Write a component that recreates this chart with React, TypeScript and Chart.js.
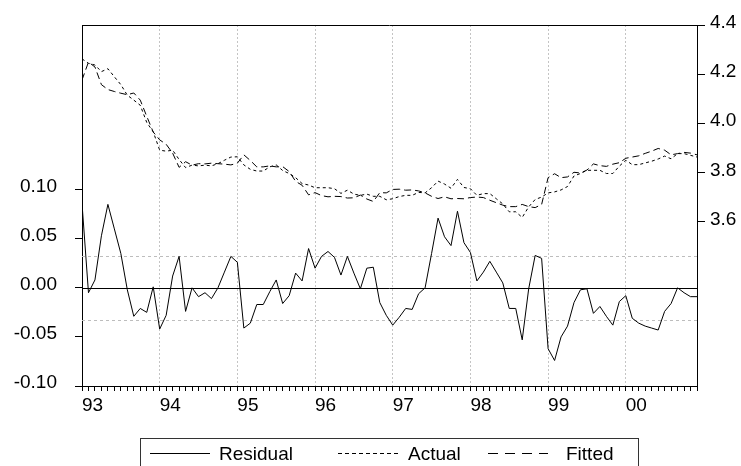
import React, { useEffect, useRef } from 'react';
import { Chart, registerables } from 'chart.js';

Chart.register(...registerables);

// ---- data ----
const yearLabels = ['93', '94', '95', '96', '97', '98', '99', '00'];
const periods: string[] = [];
for (let y = 1993; y <= 2000; y++) {
  for (let m = 1; m <= 12; m++) periods.push(`${y}M${m < 10 ? '0' + m : m}`);
}

const residual = [
  0.086, -0.005, 0.008, 0.053, 0.085, 0.060, 0.035, -0.002, -0.029, -0.021, -0.025, 0.001,
  -0.042, -0.028, 0.012, 0.032, -0.024, 0.000, -0.009, -0.005, -0.011, 0.000, 0.016, 0.032,
  0.026, -0.041, -0.036, -0.017, -0.017, -0.004, 0.008, -0.016, -0.008, 0.015, 0.007, 0.040,
  0.020, 0.032, 0.037, 0.031, 0.013, 0.032, 0.015, -0.001, 0.020, 0.021, -0.015, -0.028,
  -0.038, -0.030, -0.021, -0.022, -0.006, 0.000, 0.035, 0.071, 0.052, 0.043, 0.078, 0.046,
  0.036, 0.007, 0.016, 0.027, 0.016, 0.005, -0.021, -0.021, -0.053, -0.001, 0.033, 0.030,
  -0.062, -0.074, -0.050, -0.039, -0.015, -0.002, -0.001, -0.026, -0.019, -0.029, -0.038, -0.014,
  -0.008, -0.031, -0.036, -0.039, -0.041, -0.043, -0.024, -0.016, 0.000, -0.005, -0.009, -0.009,
];

const actual = [
  4.262, 4.244, 4.237, 4.210, 4.222, 4.189, 4.157, 4.114, 4.094, 4.073, 4.003, 3.965,
  3.890, 3.886, 3.890, 3.852, 3.819, 3.829, 3.826, 3.829, 3.826, 3.835, 3.849, 3.862,
  3.863, 3.830, 3.812, 3.805, 3.805, 3.822, 3.830, 3.807, 3.795, 3.778, 3.754, 3.748,
  3.737, 3.737, 3.737, 3.733, 3.714, 3.727, 3.711, 3.706, 3.711, 3.702, 3.702, 3.688,
  3.692, 3.701, 3.706, 3.706, 3.718, 3.716, 3.737, 3.764, 3.752, 3.735, 3.771, 3.738,
  3.733, 3.706, 3.713, 3.713, 3.692, 3.671, 3.639, 3.639, 3.616, 3.659, 3.689, 3.699,
  3.716, 3.720, 3.728, 3.742, 3.785, 3.795, 3.808, 3.808, 3.808, 3.795, 3.795, 3.825,
  3.849, 3.831, 3.831, 3.838, 3.845, 3.854, 3.866, 3.855, 3.876, 3.876, 3.869, 3.862,
];

const fitted = [
  4.176, 4.249, 4.229, 4.157, 4.137, 4.129, 4.122, 4.116, 4.123, 4.094, 4.028, 3.964,
  3.932, 3.914, 3.878, 3.820, 3.843, 3.829, 3.835, 3.834, 3.837, 3.835, 3.833, 3.830,
  3.837, 3.871, 3.848, 3.822, 3.822, 3.826, 3.822, 3.823, 3.803, 3.763, 3.747, 3.708,
  3.717, 3.705, 3.700, 3.702, 3.701, 3.695, 3.696, 3.707, 3.691, 3.681, 3.717, 3.716,
  3.730, 3.731, 3.727, 3.728, 3.724, 3.716, 3.702, 3.693, 3.700, 3.692, 3.693, 3.692,
  3.697, 3.699, 3.697, 3.686, 3.676, 3.666, 3.660, 3.660, 3.669, 3.660, 3.656, 3.669,
  3.778, 3.794, 3.778, 3.781, 3.800, 3.797, 3.809, 3.834, 3.827, 3.824, 3.833, 3.839,
  3.857, 3.862, 3.867, 3.877, 3.886, 3.897, 3.890, 3.871, 3.876, 3.881, 3.878, 3.871,
];

const residualTicks = [-0.1, -0.05, 0, 0.05, 0.1];
const levelTicks = [3.6, 3.8, 4.0, 4.2, 4.4];
const residualRange = [-0.1, 0.2677];
const levelRange = [2.9292, 4.4];
const seBand = 0.0327;

const FONT = "'Liberation Sans', Arial, Helvetica, sans-serif";

const framePlugin = {
  id: 'eviewsFrame',
  beforeDatasetsDraw(chart: any) {
    const { ctx, chartArea: a, scales } = chart;
    const y = scales.y;
    ctx.save();
    ctx.lineWidth = 1;
    ctx.strokeStyle = '#bdbdbd';
    ctx.setLineDash([3, 3]);
    [seBand, -seBand].forEach((v) => {
      const py = Math.round(y.getPixelForValue(v)) + 0.5;
      ctx.beginPath();
      ctx.moveTo(a.left, py);
      ctx.lineTo(a.right, py);
      ctx.stroke();
    });
    ctx.setLineDash([]);
    ctx.strokeStyle = '#000';
    const zy = Math.round(y.getPixelForValue(0)) + 0.5;
    ctx.beginPath();
    ctx.moveTo(a.left, zy);
    ctx.lineTo(a.right, zy);
    ctx.stroke();
    const ty = Math.round(a.top) + 0.5;
    ctx.beginPath();
    ctx.moveTo(a.left, ty);
    ctx.lineTo(a.right, ty);
    ctx.stroke();
    ctx.restore();
  },
};

function LegendLine({ dash }: { dash?: string }) {
  return (
    <svg width="60" height="3" style={{ display: 'block' }}>
      <line x1="0" y1="1.5" x2="60" y2="1.5" stroke="#000" strokeWidth="1" strokeDasharray={dash} />
    </svg>
  );
}

export default function App() {
  const canvasRef = useRef<HTMLCanvasElement | null>(null);

  useEffect(() => {
    document.body.style.margin = '0';
    const canvas = canvasRef.current;
    if (!canvas) return;
    const chart = new Chart(canvas, {
      type: 'line',
      data: {
        labels: periods,
        datasets: [
          {
            label: 'Residual',
            data: residual.map((v, i) => ({ x: i, y: v })),
            yAxisID: 'y',
            borderColor: '#000',
            borderWidth: 1,
            pointRadius: 0,
            tension: 0,
          },
          {
            label: 'Actual',
            data: actual.map((v, i) => ({ x: i, y: v })),
            yAxisID: 'y1',
            borderColor: '#000',
            borderWidth: 1,
            borderDash: [3, 3],
            pointRadius: 0,
            tension: 0,
          },
          {
            label: 'Fitted',
            data: fitted.map((v, i) => ({ x: i, y: v })),
            yAxisID: 'y1',
            borderColor: '#000',
            borderWidth: 1,
            borderDash: [7, 4],
            pointRadius: 0,
            tension: 0,
          },
        ],
      },
      options: {
        animation: false,
        responsive: false,
        devicePixelRatio: 1,
        layout: { padding: { top: 25, left: 0, right: 0, bottom: 0 } },
        plugins: { legend: { display: false }, tooltip: { enabled: false } },
        font: { family: FONT, size: 19 },
        scales: {
          x: {
            type: 'linear',
            min: 0,
            max: periods.length - 1,
            afterFit: (s: any) => { s.height = 80; s.paddingLeft = 0; s.paddingRight = 0; },
            ticks: {
              stepSize: 1,
              autoSkip: false,
              maxRotation: 0,
              align: 'start',
              padding: 3,
              color: '#000',
              font: { family: FONT, size: 19 },
              callback: (v: any) => {
                const i = Number(v);
                return i % 12 === 0 ? yearLabels[i / 12] : '';
              },
            },
            grid: {
              drawOnChartArea: true,
              tickLength: 5,
              tickColor: '#000',
              lineWidth: 1,
              color: (ctx: any) => {
                const v = ctx.tick ? ctx.tick.value : -1;
                return v % 12 === 0 && v > 0 && v < periods.length - 1 ? '#c4c4c4' : 'rgba(0,0,0,0)';
              },
            },
            border: { display: true, color: '#000', width: 1, dash: [2, 2] },
          },
          y: {
            type: 'linear',
            position: 'left',
            min: residualRange[0],
            max: residualRange[1],
            afterFit: (s: any) => { s.width = 82; s.paddingTop = 0; s.paddingBottom = 0; },
            afterBuildTicks: (s: any) => { s.ticks = residualTicks.map((value) => ({ value })); },
            ticks: {
              padding: 18,
              labelOffset: -3,
              color: '#000',
              font: { family: FONT, size: 19 },
              callback: (v: any) => Number(v).toFixed(2),
            },
            grid: { drawOnChartArea: false, tickLength: 7, tickColor: '#000' },
            border: { display: true, color: '#000', width: 1 },
          },
          y1: {
            type: 'linear',
            position: 'right',
            min: levelRange[0],
            max: levelRange[1],
            afterFit: (s: any) => { s.width = 44; s.paddingTop = 0; s.paddingBottom = 0; },
            afterBuildTicks: (s: any) => { s.ticks = levelTicks.map((value) => ({ value })); },
            ticks: {
              padding: 5,
              labelOffset: -2,
              color: '#000',
              font: { family: FONT, size: 19 },
              callback: (v: any) => Number(v).toFixed(1),
            },
            grid: { drawOnChartArea: false, tickLength: 8, tickColor: '#000' },
            border: { display: true, color: '#000', width: 1 },
          },
        },
      } as any,
      plugins: [framePlugin],
    });
    return () => chart.destroy();
  }, []);

  const textStyle: React.CSSProperties = {
    position: 'absolute',
    top: 444,
    fontFamily: FONT,
    fontSize: 19,
    lineHeight: '19px',
    color: '#000',
    whiteSpace: 'nowrap',
  };
  const lineStyle: React.CSSProperties = { position: 'absolute', top: 452 };

  return (
    <div style={{ position: 'fixed', left: 0, top: 0, width: 741, height: 466, overflow: 'hidden', background: '#fff' }}>
      <canvas ref={canvasRef} width={741} height={466} style={{ display: 'block', width: 741, height: 466 }} />
      <div
        style={{
          position: 'absolute',
          left: 140,
          top: 438,
          width: 499,
          height: 60,
          border: '1px solid #333',
          boxSizing: 'border-box',
        }}
      />
      <div style={{ ...lineStyle, left: 150 }}><LegendLine /></div>
      <span style={{ ...textStyle, left: 219 }}>Residual</span>
      <div style={{ ...lineStyle, left: 338 }}><LegendLine dash="4 3" /></div>
      <span style={{ ...textStyle, left: 408 }}>Actual</span>
      <div style={{ ...lineStyle, left: 488 }}><LegendLine dash="10 7" /></div>
      <span style={{ ...textStyle, left: 566 }}>Fitted</span>
    </div>
  );
}
